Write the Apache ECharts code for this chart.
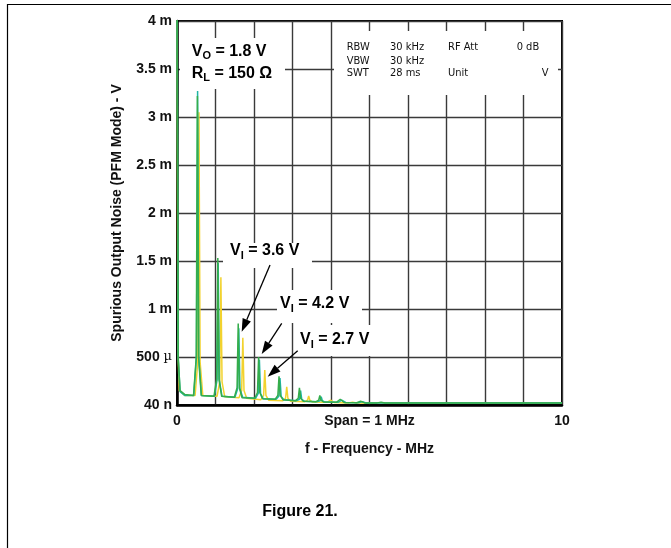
<!DOCTYPE html>
<html><head><meta charset="utf-8">
<script src="https://cdn.jsdelivr.net/npm/echarts@6/dist/echarts.min.js"></script>
<style>html,body{margin:0;padding:0;background:#fff}#c{width:671px;height:548px}</style>
</head><body><div id="c"></div>
<script>
// ---------- data (frequency MHz, noise mV) ----------
const yTickValues = [0, 0.5, 1, 1.5, 2, 2.5, 3, 3.5, 4];
const yTickLabels = ['40 n', '500 {u|µ}', '1 m', '1.5 m', '2 m', '2.5 m', '3 m', '3.5 m', '4 m'];
const xTickValues = [0, 5, 10];
const xTickLabels = ['0', 'Span = 1 MHz', '10'];

const seriesNames = ['V_I = 2.7 V', 'V_I = 3.6 V', 'V_I = 4.2 V'];

const vi27 = [[0,4.6],[0.02,0.6],[0.06,0.15],[0.2,0.1],[0.47,0.1],[0.54,0.45],[0.57,3.05],[0.6,0.45],[0.67,0.1],
  [1.04,0.09],[1.11,0.24],[1.14,1.33],[1.17,0.24],[1.24,0.085],
  [1.61,0.075],[1.68,0.15],[1.71,0.70],[1.74,0.15],[1.81,0.07],
  [2.18,0.055],[2.25,0.1],[2.28,0.365],[2.31,0.1],[2.38,0.05],
  [2.75,0.045],[2.82,0.07],[2.85,0.19],[2.88,0.07],[2.95,0.04],
  [3.32,0.035],[3.39,0.05],[3.42,0.094],[3.45,0.05],[3.52,0.03],
  [3.89,0.028],[3.99,0.05],[4.09,0.025],
  [4.46,0.022],[4.56,0.03],[4.66,0.02],
  [6,0.02],[8,0.02],[10,0.02]];

const vi36 = [[0,4.6],[0.03,0.5],[0.08,0.14],[0.2,0.1],[0.435,0.1],[0.505,0.5],[0.535,3.27],[0.565,0.5],[0.635,0.1],
  [0.97,0.09],[1.04,0.26],[1.07,1.48],[1.10,0.26],[1.17,0.09],
  [1.505,0.08],[1.575,0.17],[1.605,0.80],[1.635,0.17],[1.705,0.08],
  [2.04,0.07],[2.11,0.12],[2.14,0.47],[2.17,0.12],[2.24,0.065],
  [2.575,0.06],[2.645,0.09],[2.675,0.28],[2.705,0.09],[2.775,0.055],
  [3.11,0.045],[3.18,0.06],[3.21,0.15],[3.24,0.06],[3.31,0.04],
  [3.645,0.035],[3.715,0.045],[3.745,0.085],[3.775,0.045],[3.845,0.03],
  [4.18,0.028],[4.28,0.05],[4.38,0.026],
  [4.715,0.024],[4.815,0.035],[4.915,0.022],
  [5.5,0.02],[7,0.02],[10,0.02]];

const vi42 = [[0,4.6],[0.03,0.5],[0.08,0.15],[0.2,0.11],[0.43,0.1],[0.5,0.5],[0.53,3.22],[0.56,0.5],[0.63,0.1],
  [0.96,0.09],[1.03,0.27],[1.06,1.53],[1.09,0.27],[1.16,0.09],
  [1.49,0.08],[1.56,0.18],[1.59,0.85],[1.62,0.18],[1.69,0.075],
  [2.02,0.07],[2.09,0.13],[2.12,0.50],[2.15,0.13],[2.22,0.065],
  [2.55,0.06],[2.62,0.1],[2.65,0.30],[2.68,0.1],[2.75,0.055],
  [3.08,0.045],[3.15,0.07],[3.18,0.18],[3.21,0.07],[3.28,0.04],
  [3.61,0.035],[3.68,0.05],[3.71,0.10],[3.74,0.05],[3.81,0.03],
  [4.14,0.028],[4.24,0.06],[4.34,0.026],
  [4.67,0.024],[4.77,0.04],[4.87,0.022],
  [5.2,0.022],[5.3,0.03],[5.4,0.02],
  [6,0.02],[8,0.02],[10,0.02]];

// ---------- annotations (data coordinates) ----------
const arrows = [
  {from:[2.416,1.458], to:[1.68,0.764]},
  {from:[2.72,0.851], to:[2.2,0.531]},
  {from:[3.135,0.566], to:[2.356,0.295]}
];
const boxes = [
  [0.078,3.823,2.805,3.292],
  [4.078,3.896,9.896,3.229],
  [1.195,1.6875,3.506,1.427],
  [2.597,1.198,4.805,0.854],
  [3.117,0.833,5.195,0.51]
];
const bigLabels = [
  {pos:[0.382,3.682], text:'{b|V}{s|O}{b| = 1.8 V}'},
  {pos:[0.382,3.455], text:'{b|R}{s|L}{b| = 150 Ω}'},
  {pos:[1.377,1.604], text:'{b|V}{s|I}{b| = 3.6 V}'},
  {pos:[2.675,1.052], text:'{b|V}{s|I}{b| = 4.2 V}'},
  {pos:[3.195,0.677], text:'{b|V}{s|I}{b| = 2.7 V}'}
];
const infoCols = [4.408, 5.532, 7.039, 8.823, 9.473];
const infoRows = [3.726, 3.587, 3.455];
const infoTexts = [
  [0,0,'RBW'],[1,0,'30 kHz'],[2,0,'RF Att'],[3,0,'0 dB'],
  [0,1,'VBW'],[1,1,'30 kHz'],
  [0,2,'SWT'],[1,2,'28 ms'],[2,2,'Unit'],[4,2,'V']
];

const FONT = '"Liberation Sans", Arial, Helvetica, sans-serif';
const NARROW = '"Liberation Sans Narrow", "DejaVu Sans Condensed", "Liberation Sans", sans-serif';
const colors = ['#f2d22e', '#1fb5a6', '#35ad4b'];

const chart = echarts.init(document.getElementById('c'), null, {renderer:'canvas'});

const lineSeries = (name, data, color) => ({
  name, type:'line', data, showSymbol:false, symbol:'none', clip:true,
  lineStyle:{color, width:1.5}, itemStyle:{color}, animation:false, z:3
});

chart.setOption({
  backgroundColor:'#fff',
  animation:false,
  grid:{left:177, right:109, top:21, bottom:143, show:true, borderColor:'#000', borderWidth:2, containLabel:false},
  xAxis:{
    type:'value', min:0, max:10, interval:1,
    name:'f - Frequency - MHz', nameLocation:'middle', nameGap:37,
    nameTextStyle:{fontFamily:FONT, fontWeight:'bold', fontSize:14, color:'#111'},
    axisLine:{show:true, lineStyle:{color:'#000', width:2.5}},
    axisTick:{show:false},
    splitLine:{show:true, lineStyle:{color:'#3a3a3a', width:1.4}},
    axisLabel:{
      fontFamily:FONT, fontWeight:'bold', fontSize:14, color:'#111', margin:9,
      showMinLabel:true, showMaxLabel:true,
      formatter: v => { const i = xTickValues.indexOf(v); return i >= 0 ? xTickLabels[i] : ''; }
    }
  },
  yAxis:{
    type:'value', min:0, max:4, interval:0.5,
    name:'Spurious Output Noise (PFM Mode) - V', nameLocation:'middle', nameGap:53,
    nameTextStyle:{fontFamily:FONT, fontWeight:'bold', fontSize:14, color:'#111'},
    axisLine:{show:true, lineStyle:{color:'#000', width:2.5}},
    axisTick:{show:false},
    splitLine:{show:true, lineStyle:{color:'#3a3a3a', width:1.4}},
    axisLabel:{
      fontFamily:FONT, fontWeight:'bold', fontSize:14, color:'#111', margin:5,
      showMinLabel:true, showMaxLabel:true,
      formatter: v => { const i = yTickValues.findIndex(t => Math.abs(t - v) < 1e-9); return i >= 0 ? yTickLabels[i] : ''; },
      rich:{u:{fontFamily:'"DejaVu Serif", serif', fontWeight:'normal', fontSize:13, color:'#111'}}
    }
  },
  series:[
    lineSeries(seriesNames[0], vi27, colors[0]),
    lineSeries(seriesNames[1], vi36, colors[1]),
    lineSeries(seriesNames[2], vi42, colors[2])
  ]
});

// ---------- graphic annotations ----------
const px = p => chart.convertToPixel({gridIndex:0}, p);
const richBig = {
  b:{fontFamily:FONT, fontWeight:'bold', fontSize:16, color:'#000'},
  s:{fontFamily:FONT, fontWeight:'bold', fontSize:11, color:'#000', padding:[9,0,0,0]}
};
const g = [];
boxes.forEach(b => {
  const a = px([b[0], b[1]]), c = px([b[2], b[3]]);
  g.push({type:'rect', shape:{x:a[0], y:a[1], width:c[0]-a[0], height:c[1]-a[1]}, style:{fill:'#fff'}, z:10});
});
bigLabels.forEach(l => {
  const p = px(l.pos);
  g.push({type:'text', x:p[0], y:p[1], z:11, style:{text:l.text, rich:richBig, align:'left', verticalAlign:'middle'}});
});
infoTexts.forEach(t => {
  const p = px([infoCols[t[0]], infoRows[t[1]]]);
  g.push({type:'text', x:p[0], y:p[1], z:11, style:{text:t[2], fontFamily:NARROW, fontSize:11, fill:'#111', align:'left', verticalAlign:'middle'}});
});
// arrows
const HEAD_LEN = 13, HEAD_W = 4.5;
arrows.forEach(a => {
  const s = px(a.from), e = px(a.to);
  const dx = e[0]-s[0], dy = e[1]-s[1], L = Math.hypot(dx, dy);
  const ux = dx/L, uy = dy/L;
  const bx = e[0]-ux*HEAD_LEN, by = e[1]-uy*HEAD_LEN;
  g.push({type:'line', z:12, shape:{x1:s[0], y1:s[1], x2:bx, y2:by}, style:{stroke:'#000', lineWidth:1.3}});
  g.push({type:'polygon', z:12, shape:{points:[[e[0],e[1]],[bx-uy*HEAD_W, by+ux*HEAD_W],[bx+uy*HEAD_W, by-ux*HEAD_W]]}, style:{fill:'#000'}});
});
// page frame & caption
g.push({type:'line', shape:{x1:7.5, y1:4, x2:7.5, y2:548}, style:{stroke:'#000', lineWidth:1.2}, z:1});
g.push({type:'line', shape:{x1:7, y1:4.5, x2:671, y2:4.5}, style:{stroke:'#000', lineWidth:1.2}, z:1});
g.push({type:'text', x:300, y:512, z:11, style:{text:'Figure 21.', fontFamily:FONT, fontWeight:'bold', fontSize:16, fill:'#000', align:'center', verticalAlign:'middle'}});
chart.setOption({graphic:g});
</script></body></html>
